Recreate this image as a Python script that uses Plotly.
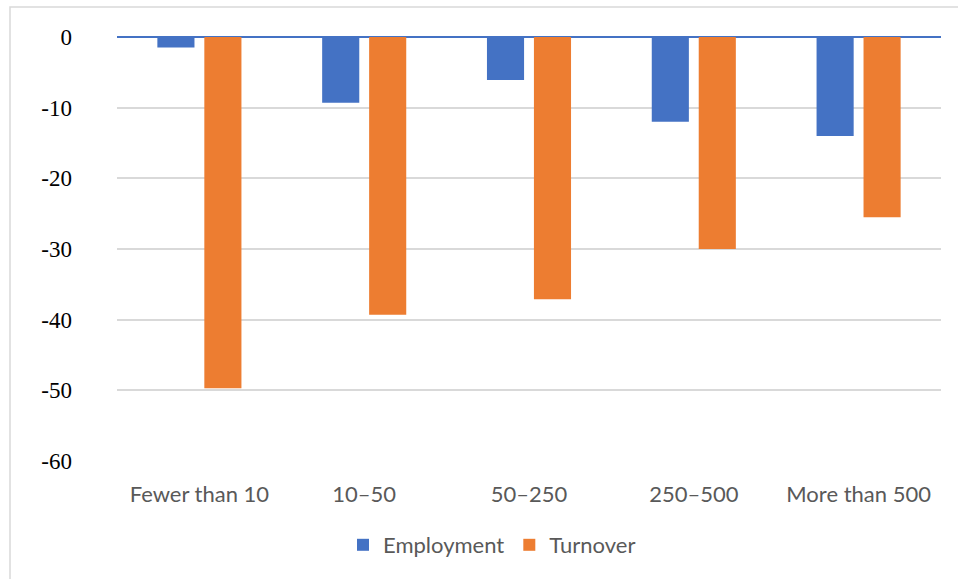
import plotly.graph_objects as go

# Change by firm size class (%)
categories = ["Fewer than 10", "10–50", "50–250", "250–500", "More than 500"]
employment = [-1.5, -9.3, -6.1, -12.0, -14.0]
turnover = [-49.7, -39.3, -37.1, -30.0, -25.5]
y_ticks = [0, -10, -20, -30, -40, -50, -60]

W, H = 958, 579
L, R, T, B = 117, 17, 37, 118
pw, ph = W - L - R, H - T - B

fig = go.Figure()
fig.add_trace(go.Bar(name="Employment", x=categories, y=employment,
                     marker=dict(color="#4472C4", line=dict(width=0))))
fig.add_trace(go.Bar(name="Turnover", x=categories, y=turnover,
                     marker=dict(color="#ED7D31", line=dict(width=0))))

# outer chart frame (left and top edges visible)
fig.add_shape(type="rect", xref="paper", yref="paper",
              x0=(10 - L) / pw, x1=(W + 20 - L) / pw,
              y0=-(B + 20) / ph, y1=(H - B - 7) / ph,
              line=dict(color="#D9D9D9", width=1.5), layer="below")

fig.update_layout(
    width=W, height=H,
    margin=dict(l=L, r=R, t=T, b=B),
    paper_bgcolor="white", plot_bgcolor="white",
    barmode="group", bargap=0.43, bargroupgap=0.21,
    showlegend=True,
    legend=dict(orientation="h", x=(492 - L) / pw, xanchor="center",
                y=-(545 - (H - B)) / ph, yanchor="middle",
                font=dict(family="Lato", size=22, color="#595959"),
                itemwidth=30, traceorder="normal"),
    xaxis=dict(showgrid=False, showline=False, ticks="",
               tickfont=dict(family="Lato", size=22, color="#595959"),
               ticklabelstandoff=18),
    yaxis=dict(range=[-60, 0], tickvals=y_ticks,
               ticktext=[str(v) for v in y_ticks],
               showgrid=True, gridcolor="#D9D9D9", gridwidth=1.5,
               zeroline=True, zerolinecolor="#4472C4", zerolinewidth=2,
               showline=False, ticks="",
               tickfont=dict(family="Liberation Serif", size=23, color="black"),
               ticklabelstandoff=44),
)

fig.write_html("out.html")
